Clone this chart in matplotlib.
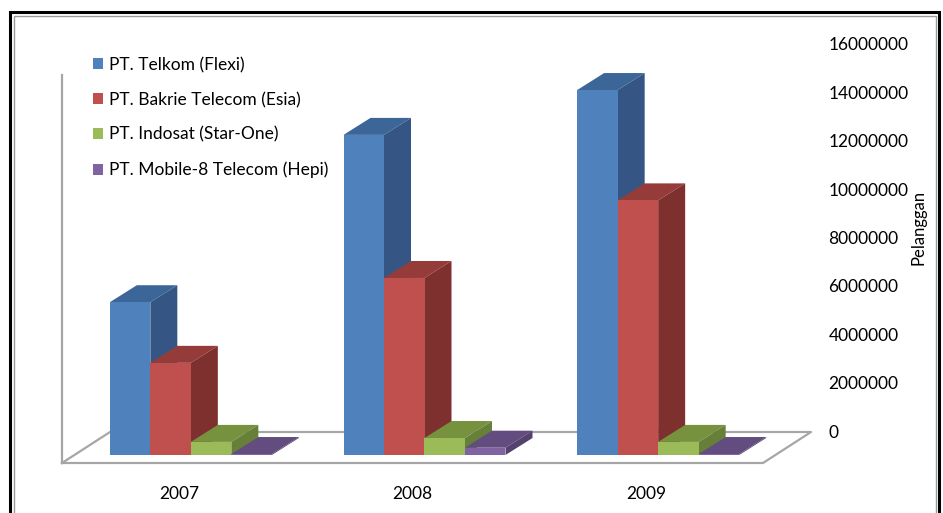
import matplotlib
matplotlib.use("Agg")
import matplotlib.pyplot as plt
from matplotlib.patches import Polygon, Rectangle

years = ["2007", "2008", "2009"]
operators = ["PT. Telkom (Flexi)", "PT. Bakrie Telecom (Esia)",
             "PT. Indosat (Star-One)", "PT. Mobile-8 Telecom (Hepi)"]
telkom = [6300000, 13200000, 15050000]
bakrie = [3800000, 7300000, 10500000]
indosat = [540000, 700000, 540000]
mobile8 = [40000, 300000, 40000]
series = [telkom, bakrie, indosat, mobile8]
yticks = [0, 2000000, 4000000, 6000000, 8000000, 10000000, 12000000, 14000000, 16000000]

front_c = ["#4F81BD", "#C0504D", "#9BBB59", "#8064A2"]
top_c = ["#3D6698", "#953C3A", "#77923E", "#624C80"]
side_c = ["#355684", "#7D302E", "#66803A", "#54416E"]

W, H = 943, 513
fig = plt.figure(figsize=(W / 100, H / 100), dpi=100)
plt.rcParams["font.family"] = ["Lato", "DejaVu Sans"]
FS = 12.5


def fx(px):
    return px / W


def fy(py):
    return 1 - py / H


# front plane of the floor: x 62..763, y 463 (0) .. 75 (16M)
ax = fig.add_axes([fx(62), fy(463), fx(701), 388 / H])
ax.set_xlim(-0.5, 2.5)
ax.set_ylim(0, 16e6)
ax.axis("off")

xu = 3 / 701          # data x per px
yu = 16e6 / 388       # data y per px
off_x, off_y = 12 * xu, 8 * yu        # bar front face set back
dep_x, dep_y = 27 * xu, 17 * yu       # bar depth
wall_x, wall_y = 48 * xu, 31 * yu     # floor depth
bw = 40.5 * xu

grey = "#A6A6A6"
# floor outline and left wall edge
ax.plot([-0.5, 2.5, 2.5 + wall_x, -0.5 + wall_x, -0.5],
        [0, 0, wall_y, wall_y, 0], color=grey, lw=1.6, clip_on=False, zorder=1)
ax.plot([-0.5, -0.5], [0, 16e6], color=grey, lw=1.6, clip_on=False, zorder=1)

handles = []
for k, vals in enumerate(series):
    for i, v in enumerate(vals):
        x0 = i - 2 * bw + k * bw + off_x
        y0 = off_y
        x1 = x0 + bw
        y1 = y0 + v
        z = 2 + i * 10 + k
        top = Polygon([(x0, y1), (x1, y1), (x1 + dep_x, y1 + dep_y), (x0 + dep_x, y1 + dep_y)],
                      closed=True, fc=top_c[k], ec="none", clip_on=False, zorder=z)
        side = Polygon([(x1, y0), (x1 + dep_x, y0 + dep_y), (x1 + dep_x, y1 + dep_y), (x1, y1)],
                       closed=True, fc=side_c[k], ec="none", clip_on=False, zorder=z)
        ax.add_patch(top)
        ax.add_patch(side)
    bars = ax.bar([i - 1.5 * bw + k * bw + off_x for i in range(3)], vals, width=bw,
                  bottom=off_y, color=front_c[k], clip_on=False, label=operators[k])
    for i, b in enumerate(bars):
        b.set_zorder(2.5 + i * 10 + k)
    handles.append(bars)

# category labels
for i, yr in enumerate(years):
    ax.text(i, -31 * yu, yr, ha="center", va="center", fontsize=FS, color="black")

# back wall axes for the value labels
bax = fig.add_axes([fx(110), fy(431), fx(701), 387 / H])
bax.set_xlim(-0.5, 2.5)
bax.set_ylim(0, 16e6)
bax.patch.set_visible(False)
for s in bax.spines.values():
    s.set_visible(False)
bax.set_xticks([])
bax.yaxis.tick_right()
bax.set_yticks(yticks)
bax.set_yticklabels([str(t) for t in yticks], fontsize=FS)
bax.tick_params(axis="y", length=0, pad=12.5)
bax.yaxis.set_label_position("right")
bax.set_ylabel("Pelanggan", fontsize=12)
bax.yaxis.set_label_coords((910 - 110) / 701, (431 - 227) / 387)

leg = fig.legend(handles=handles, labels=operators, loc="upper left",
                 bbox_to_anchor=(fx(86), fy(50)), frameon=False, fontsize=FS,
                 handlelength=0.6, handleheight=0.6, handletextpad=0.3,
                 labelspacing=1.08, borderaxespad=0)

# outer frame
fig.add_artist(Rectangle((fx(10), fy(560)), fx(929), 548 / H, transform=fig.transFigure,
                         fill=False, ec="black", lw=2.2))
fig.add_artist(Rectangle((fx(13.5), fy(560)), fx(922), 544.5 / H, transform=fig.transFigure,
                         fill=False, ec="#9A9A9A", lw=1.0))

fig.savefig("out.png", dpi=100)
